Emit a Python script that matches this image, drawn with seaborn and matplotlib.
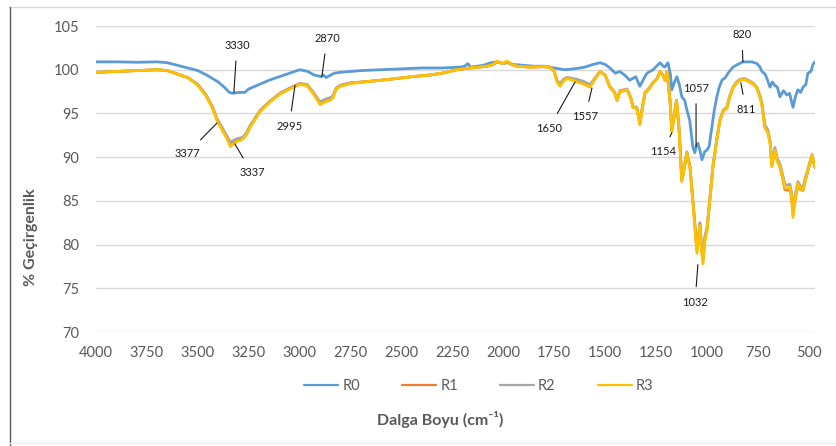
import numpy as np
import pandas as pd
import matplotlib
matplotlib.use("Agg")
import matplotlib.pyplot as plt
import seaborn as sns
from matplotlib.lines import Line2D

# R0 spectrum (own wavenumber grid)
wn_r0 = [4000, 3900, 3800, 3700, 3650, 3600, 3550, 3500, 3450, 3400,
         3370, 3345, 3330, 3300, 3270, 3250, 3200, 3150, 3100, 3050,
         3000, 2960, 2930, 2910, 2895, 2885, 2870, 2855, 2830, 2800,
         2700, 2600, 2500, 2400, 2300, 2210, 2190, 2175, 2160, 2100,
         2060, 2030, 2000, 1980, 1950, 1900, 1850, 1800, 1750, 1700,
         1650, 1600, 1560, 1525, 1500, 1477, 1450, 1428, 1400, 1380,
         1350, 1330, 1310, 1295, 1265, 1231, 1215, 1207, 1192, 1180,
         1173, 1160, 1148, 1135, 1124, 1110, 1099, 1085, 1070, 1060,
         1052, 1045, 1035, 1025, 1012, 1001, 990, 976, 965, 952,
         940, 927, 910, 897, 873, 850, 824, 800, 780, 755,
         740, 731, 715, 706, 691, 680, 667, 655, 642, 625,
         608, 595, 578, 565, 554, 540, 529, 515, 505, 490,
         480, 470]
r0 = [100.9, 100.9, 100.85, 100.9, 100.8, 100.5, 100.2, 99.9, 99.3, 98.6,
      98.0, 97.4, 97.3, 97.4, 97.4, 97.8, 98.3, 98.8, 99.2, 99.6,
      100.0, 99.8, 99.4, 99.3, 99.2, 99.4, 99.1, 99.3, 99.6, 99.7,
      99.9, 100.0, 100.1, 100.2, 100.2, 100.3, 100.4, 100.7, 100.3, 100.5,
      100.8, 100.9, 100.7, 100.8, 100.6, 100.5, 100.4, 100.4, 100.2, 100.0,
      100.1, 100.3, 100.6, 100.8, 100.6, 100.2, 99.6, 99.8, 99.3, 98.8,
      99.2, 98.1, 99.0, 99.6, 100.0, 100.8, 100.4, 100.3, 100.8, 99.5,
      97.7, 98.6, 99.2, 98.2, 96.9, 96.5, 95.4, 94.2, 91.2, 90.5,
      91.3, 91.6, 90.8, 89.7, 90.6, 90.8, 91.2, 93.5, 95.3, 96.9,
      98.0, 98.8, 99.1, 99.6, 100.3, 100.6, 100.9, 100.9, 100.9, 100.7,
      100.3, 99.8, 99.5, 99.0, 98.0, 98.6, 98.2, 98.0, 96.9, 97.6,
      97.1, 97.3, 95.7, 97.0, 97.7, 97.4, 98.0, 98.3, 99.6, 99.8,
      100.6, 100.9]

# R1, R2, R3 spectra (shared wavenumber grid)
wn_r = [4000, 3900, 3800, 3700, 3650, 3600, 3550, 3500, 3460, 3430,
        3406, 3376, 3355, 3340, 3325, 3308, 3290, 3278, 3260, 3244,
        3195, 3146, 3097, 3048, 3000, 2964, 2935, 2915, 2900, 2885,
        2866, 2850, 2836, 2820, 2800, 2750, 2689, 2600, 2522, 2450,
        2360, 2300, 2228, 2164, 2081, 2050, 2031, 2015, 2002, 1982,
        1960, 1933, 1870, 1805, 1771, 1750, 1737, 1722, 1705, 1688,
        1658, 1639, 1610, 1575, 1550, 1526, 1501, 1477, 1455, 1442,
        1428, 1393, 1375, 1364, 1345, 1330, 1315, 1305, 1285, 1266,
        1245, 1231, 1215, 1207, 1197, 1182, 1173, 1163, 1150, 1137,
        1124, 1110, 1099, 1084, 1070, 1060, 1050, 1040, 1035, 1028,
        1020, 1010, 1000, 986, 971, 952, 937, 920, 903, 890,
        873, 855, 839, 815, 790, 770, 755, 740, 731, 716,
        701, 690, 682, 667, 655, 642, 630, 618, 605, 593,
        585, 578, 566, 554, 542, 529, 517, 505, 485, 470]
r1 = [99.7, 99.8, 99.9, 100.0, 99.9, 99.5, 99.1, 98.3, 97.1, 95.8,
      94.3, 93.0, 92.2, 91.5, 91.8, 92.0, 92.1, 92.2, 92.7, 93.5,
      95.3, 96.4, 97.3, 97.9, 98.4, 98.3, 97.4, 96.7, 96.2, 96.4,
      96.6, 96.7, 97.0, 97.9, 98.2, 98.5, 98.6, 98.8, 99.0, 99.2,
      99.4, 99.6, 100.0, 100.2, 100.4, 100.6, 100.9, 100.8, 100.7, 100.9,
      100.6, 100.4, 100.3, 100.35, 100.3, 99.8, 98.7, 98.3, 98.8, 99.1,
      98.9, 98.8, 98.6, 98.2, 99.0, 99.8, 99.4, 98.0, 97.4, 96.5,
      97.5, 97.7, 96.8, 95.7, 95.6, 93.8, 96.0, 97.3, 97.8, 98.5,
      99.0, 99.8, 99.3, 98.8, 99.8, 96.5, 93.0, 94.5, 96.5, 93.1,
      87.3, 89.0, 90.5, 88.9, 85.1, 82.2, 79.4, 81.2, 82.3, 79.8,
      78.2, 80.8, 81.8, 85.2, 88.9, 92.0, 94.2, 95.3, 95.6, 96.8,
      97.9, 98.5, 98.8, 98.9, 98.6, 98.3, 97.9, 96.9, 96.1, 93.5,
      92.9, 91.6, 89.0, 90.9, 89.6, 88.9, 87.7, 86.3, 86.2, 86.4,
      85.3, 83.5, 85.4, 86.8, 86.3, 86.2, 87.4, 88.4, 90.1, 88.8]
r2 = [99.7, 99.8, 99.9, 100.0, 99.9, 99.5, 99.1, 98.3, 97.1, 95.8,
      94.4, 93.2, 92.3, 91.7, 91.9, 92.1, 92.2, 92.3, 92.8, 93.6,
      95.3, 96.4, 97.3, 97.9, 98.4, 98.3, 97.5, 96.8, 96.3, 96.5,
      96.7, 96.8, 97.0, 97.9, 98.2, 98.5, 98.6, 98.8, 99.0, 99.2,
      99.4, 99.6, 100.0, 100.2, 100.4, 100.6, 100.9, 100.8, 100.7, 100.9,
      100.6, 100.4, 100.3, 100.35, 100.3, 99.8, 98.8, 98.4, 98.9, 99.1,
      99.0, 98.9, 98.7, 98.3, 99.0, 99.8, 99.4, 98.1, 97.5, 96.6,
      97.6, 97.8, 96.9, 95.8, 95.7, 93.9, 96.1, 97.4, 97.9, 98.5,
      99.0, 99.8, 99.3, 98.8, 99.8, 96.6, 93.1, 94.6, 96.5, 93.2,
      87.4, 89.1, 90.6, 89.0, 85.2, 82.4, 79.8, 81.5, 82.5, 80.2,
      78.6, 81.0, 81.9, 85.3, 89.0, 92.1, 94.3, 95.4, 95.7, 96.9,
      98.0, 98.6, 98.9, 99.0, 98.7, 98.4, 98.0, 97.0, 96.2, 93.7,
      93.1, 91.8, 89.3, 91.1, 89.8, 89.2, 88.1, 86.9, 86.8, 86.9,
      85.9, 84.0, 85.8, 87.2, 86.7, 86.5, 87.7, 88.6, 90.3, 89.0]
r3 = [99.7, 99.8, 99.9, 100.0, 99.9, 99.5, 99.1, 98.2, 97.0, 95.7,
      94.2, 92.9, 92.0, 91.2, 91.5, 91.8, 91.9, 92.1, 92.6, 93.4,
      95.2, 96.3, 97.2, 97.8, 98.3, 98.2, 97.3, 96.6, 96.0, 96.2,
      96.4, 96.5, 96.8, 97.8, 98.1, 98.4, 98.6, 98.8, 99.0, 99.2,
      99.4, 99.6, 100.0, 100.2, 100.4, 100.6, 101.0, 100.8, 100.7, 101.0,
      100.6, 100.4, 100.3, 100.35, 100.3, 99.8, 98.6, 98.1, 98.7, 99.0,
      98.8, 98.6, 98.4, 98.0, 98.9, 99.8, 99.4, 98.0, 97.4, 96.5,
      97.5, 97.7, 96.8, 95.7, 95.6, 93.7, 96.0, 97.3, 97.8, 98.5,
      99.0, 99.8, 99.3, 98.8, 99.8, 96.5, 92.9, 94.5, 96.5, 93.0,
      87.2, 89.0, 90.5, 88.9, 85.0, 82.0, 79.0, 81.0, 82.2, 79.5,
      77.8, 80.5, 81.6, 85.1, 88.9, 92.0, 94.2, 95.3, 95.6, 96.8,
      97.9, 98.5, 98.8, 98.9, 98.6, 98.3, 97.9, 96.9, 96.0, 93.3,
      92.8, 91.5, 88.9, 90.8, 89.5, 88.9, 87.8, 86.5, 86.4, 86.6,
      85.5, 83.1, 85.5, 87.0, 86.4, 86.2, 87.5, 88.5, 90.2, 88.9]

series_names = ["R0", "R1", "R2", "R3"]
colors = ["#5B9BD5", "#ED7D31", "#A5A5A5", "#FFC000"]

# peak labels: text, (text x, text y), (point x, point y)
peak_labels = [
    ("3330", (3308, 102.8), (3323, 97.4)),
    ("2870", (2866, 103.6), (2891, 99.2)),
    ("2995", (3052, 93.5), (3023, 98.2)),
    ("3377", (3553, 90.4), (3406, 93.9)),
    ("3337", (3234, 88.2), (3318, 91.5)),
    ("1650", (1776, 93.3), (1648, 98.6)),
    ("1557", (1599, 94.6), (1565, 97.9)),
    ("1154", (1216, 90.6), (1173, 92.8)),
    ("1057", (1054, 97.9), (1054, 91.2)),
    ("820", (829, 104.0), (824, 100.9)),
    ("811", (809, 95.4), (834, 98.5)),
    ("1032", (1059, 73.4), (1045, 77.7)),
]

frames = [pd.DataFrame({"wn": wn_r0, "T": r0, "series": "R0"})]
for name, vals in zip(["R1", "R2", "R3"], [r1, r2, r3]):
    frames.append(pd.DataFrame({"wn": wn_r, "T": vals, "series": name}))
df = pd.concat(frames, ignore_index=True)

sns.set_theme(style="white")
plt.rcParams["font.family"] = ["Lato", "DejaVu Sans"]
gray = "#595959"

fig = plt.figure(figsize=(8.37, 4.46), dpi=100)
ax = fig.add_axes([96 / 837, 1 - 332 / 446, (815 - 96) / 837, (332 - 26) / 446])

sns.lineplot(data=df, x="wn", y="T", hue="series", hue_order=series_names,
             palette=colors, estimator=None, sort=False, linewidth=2, ax=ax,
             legend=False)

ax.set_xlim(4000, 470)
ax.set_ylim(70, 105)
ax.set_xticks(np.arange(4000, 499, -250))
ax.set_yticks(np.arange(70, 106, 5))
ax.yaxis.grid(True, color="#d9d9d9", linewidth=1)
ax.xaxis.grid(False)
for s in ax.spines.values():
    s.set_visible(False)
ax.tick_params(axis="both", length=0, labelsize=10.5, labelcolor=gray)
ax.tick_params(axis="x", pad=10)
ax.tick_params(axis="y", pad=12)
ax.set_xlabel("")
ax.set_ylabel("% Geçirgenlik", fontsize=11.5, fontweight="bold", color=gray)
ax.yaxis.set_label_coords((38 - 96) / 719, (332 - 237) / 306)

for txt, (tx, ty), (px, py) in peak_labels:
    ax.annotate(txt, xy=(px, py), xytext=(tx, ty), fontsize=8, color="#1a1a1a",
                ha="center", va="center",
                arrowprops=dict(arrowstyle="-", color="#1a1a1a", lw=0.8,
                                shrinkA=5, shrinkB=0))

handles = [Line2D([0], [0], color=c, lw=1.6) for c in colors]
fig.legend(handles, series_names, loc="center", bbox_to_anchor=(479 / 837, 1 - 386 / 446),
           ncol=4, frameon=False, fontsize=10.5, handlelength=2.3, columnspacing=2.9,
           handletextpad=0.3, labelcolor=gray)

fig.text(440 / 837, 1 - 420 / 446, "Dalga Boyu (cm⁻¹)", ha="center", va="center",
         fontsize=11.5, fontweight="bold", color=gray)

# outer chart border
fig.add_artist(Line2D([9 / 837, 1], [1 - 7 / 446, 1 - 7 / 446], transform=fig.transFigure,
                      color="#d9d9d9", lw=1))
fig.add_artist(Line2D([9.5 / 837, 9.5 / 837], [0, 1 - 7 / 446], transform=fig.transFigure,
                      color="#595959", lw=1))
fig.add_artist(Line2D([9 / 837, 1], [3 / 446, 3 / 446], transform=fig.transFigure,
                      color="#eeeeee", lw=1))

fig.savefig("out.png", dpi=100)
